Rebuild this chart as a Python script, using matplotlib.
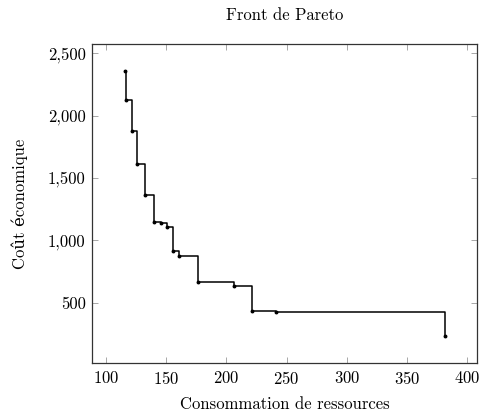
import matplotlib
matplotlib.use('Agg')
import matplotlib.pyplot as plt
from matplotlib.ticker import FuncFormatter, MultipleLocator

plt.rcParams['font.family'] = ['cmr10', 'DejaVu Serif']
plt.rcParams['mathtext.fontset'] = 'cm'
plt.rcParams['axes.formatter.use_mathtext'] = True

# Pareto front points (resource use, economic cost)
consommation = [115.6, 116.6, 121.6, 126.2, 132.3, 140.3, 145.8, 150.5,
                156.0, 161.0, 176.2, 206.3, 221.0, 241.1, 381.4]
cout = [2362, 2122, 1877, 1610, 1362, 1148, 1135, 1108,
        916, 874, 666, 634, 436, 426, 228]

fig = plt.figure(figsize=(4.83, 4.15), dpi=100)
ax = fig.add_axes([0.1915, 0.1253, 0.7961, 0.7687])

ax.plot(consommation, cout, drawstyle='steps-post', color='black',
        linewidth=1.1, marker='o', markersize=1.8)

# pgfplots-like limits (10% enlargement)
xr = max(consommation) - min(consommation)
yr = max(cout) - min(cout)
ax.set_xlim(min(consommation) - 0.1 * xr, max(consommation) + 0.1 * xr)
ax.set_ylim(min(cout) - 0.1 * yr, max(cout) + 0.1 * yr)

ax.xaxis.set_major_locator(MultipleLocator(50))
ax.yaxis.set_major_locator(MultipleLocator(500))
ax.yaxis.set_major_formatter(FuncFormatter(lambda v, p: '{:,.0f}'.format(v)))

ax.tick_params(direction='in', top=True, right=True, length=4.5, width=0.6,
               color='#999999', labelsize=12, pad=5)
for s in ax.spines.values():
    s.set_linewidth(0.9)
    s.set_color('#333333')

ax.set_title('Front de Pareto', fontsize=12, pad=17)
ax.set_xlabel('Consommation de ressources', fontsize=12, labelpad=7)
ax.set_ylabel('Coût économique', fontsize=12, labelpad=14)

fig.savefig('out.png', dpi=100)
